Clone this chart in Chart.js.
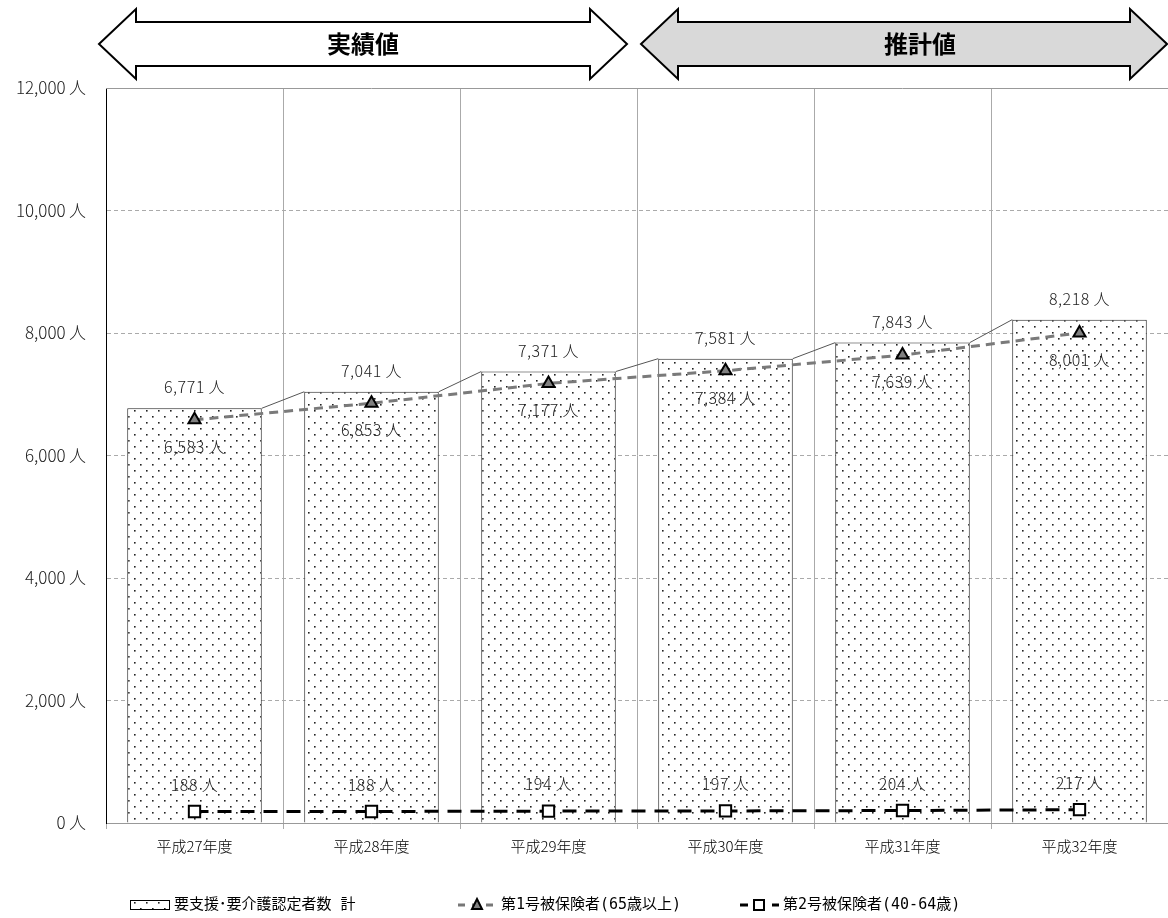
<!DOCTYPE html>
<html><head><meta charset="utf-8">
<script src="https://cdn.jsdelivr.net/npm/chart.js@4/dist/chart.umd.min.js"></script>
<style>html,body{margin:0;padding:0;background:#fff}#wrap{width:1168px;height:918px}</style>
</head><body><div id="wrap"><canvas id="c" width="1168" height="918"></canvas></div>
<script>
const categories = ['平成27年度','平成28年度','平成29年度','平成30年度','平成31年度','平成32年度'];
const totalValues = [6771, 7041, 7371, 7581, 7843, 8218];
const elderlyValues = [6583, 6853, 7177, 7384, 7639, 8001];
const youngerValues = [188, 188, 194, 197, 204, 217];
const seriesNames = ['要支援･要介護認定者数 計', '第1号被保険者(65歳以上)', '第2号被保険者(40-64歳)'];
const yTicks = [0, 2000, 4000, 6000, 8000, 10000, 12000];
const phaseLabels = ['実績値', '推計値'];

const FONT = '"Noto Sans CJK JP", "Noto Sans", sans-serif';
const LFONT = '"DejaVu Sans Mono", "Noto Sans CJK JP", sans-serif';
const fmt = v => v.toLocaleString('en-US') + '\u2009人';

function makePattern(){
  const p = document.createElement('canvas'); p.width = 12; p.height = 12;
  const g = p.getContext('2d');
  g.fillStyle = '#fff'; g.fillRect(0,0,12,12);
  g.fillStyle = '#222';
  g.fillRect(2,2,1.6,1.6); g.fillRect(8,8,1.6,1.6);
  return document.getElementById('c').getContext('2d').createPattern(p,'repeat');
}
const dots = makePattern();

function arrow(ctx, x1, x2, yc, fill){
  const hh = 35, sh = 22, hl = 37;
  ctx.beginPath();
  ctx.moveTo(x1, yc);
  ctx.lineTo(x1+hl, yc-hh); ctx.lineTo(x1+hl, yc-sh);
  ctx.lineTo(x2-hl, yc-sh); ctx.lineTo(x2-hl, yc-hh);
  ctx.lineTo(x2, yc); ctx.lineTo(x2-hl, yc+hh);
  ctx.lineTo(x2-hl, yc+sh); ctx.lineTo(x1+hl, yc+sh);
  ctx.lineTo(x1+hl, yc+hh); ctx.closePath();
  ctx.fillStyle = fill; ctx.fill();
  ctx.lineWidth = 2; ctx.strokeStyle = '#000'; ctx.lineJoin = 'miter'; ctx.stroke();
}

const decor = {
  id: 'decor',
  beforeDatasetsDraw(chart){
    const ctx = chart.ctx, ca = chart.chartArea;
    const bars = chart.getDatasetMeta(0).data;
    ctx.save(); ctx.strokeStyle = '#555'; ctx.lineWidth = 1;
    for (let i=0;i<bars.length-1;i++){
      const a = bars[i], b = bars[i+1];
      ctx.beginPath();
      ctx.moveTo(a.x + a.width/2, a.y); ctx.lineTo(b.x - b.width/2, b.y); ctx.stroke();
    }
    ctx.strokeStyle = '#999'; ctx.beginPath(); ctx.moveTo(ca.left, ca.top+0.5); ctx.lineTo(ca.right, ca.top+0.5); ctx.stroke();
    ctx.restore();
  },
  afterDraw(chart){
    const ctx = chart.ctx;
    ctx.save();
    arrow(ctx, 99, 627, 44, '#fff');
    arrow(ctx, 641, 1167, 44, '#d9d9d9');
    ctx.fillStyle = '#000'; ctx.font = 'bold 24px ' + FONT;
    ctx.textAlign = 'center'; ctx.textBaseline = 'middle';
    ctx.fillText(phaseLabels[0], 363, 44);
    ctx.fillText(phaseLabels[1], 920, 44);

    ctx.font = '300 16px ' + FONT; ctx.fillStyle = '#222';
    ctx.letterSpacing = '0.5px';
    const bars = chart.getDatasetMeta(0).data;
    const p1 = chart.getDatasetMeta(1).data;
    const p2 = chart.getDatasetMeta(2).data;
    bars.forEach((b,i)=>{ ctx.fillText(fmt(totalValues[i]), b.x, b.y - 21); });
    p1.forEach((p,i)=>{ ctx.fillText(fmt(elderlyValues[i]), p.x, p.y + 27); });
    p2.forEach((p,i)=>{ ctx.fillText(fmt(youngerValues[i]), p.x, p.y - 27); });
    ctx.letterSpacing = '0px';

    const ly = 905;
    ctx.font = '15px ' + LFONT; ctx.textAlign = 'left';
    ctx.fillStyle = dots; ctx.fillRect(130, ly-5, 40, 10);
    ctx.strokeStyle = '#000'; ctx.lineWidth = 1; ctx.strokeRect(130.5, ly-4.5, 39, 9);
    ctx.fillStyle = '#000'; ctx.fillText(seriesNames[0], 174, ly);
    ctx.strokeStyle = '#777'; ctx.lineWidth = 3; ctx.setLineDash([7,7]);
    ctx.beginPath(); ctx.moveTo(458, ly); ctx.lineTo(497, ly); ctx.stroke(); ctx.setLineDash([]);
    ctx.beginPath(); ctx.moveTo(477, ly-6); ctx.lineTo(482, ly+4); ctx.lineTo(472, ly+4); ctx.closePath();
    ctx.fillStyle = '#808080'; ctx.fill(); ctx.strokeStyle='#000'; ctx.lineWidth = 2; ctx.stroke();
    ctx.fillStyle = '#000'; ctx.fillText(seriesNames[1], 501, ly);
    ctx.strokeStyle = '#000'; ctx.lineWidth = 3; ctx.setLineDash([8,8]);
    ctx.beginPath(); ctx.moveTo(740, ly); ctx.lineTo(779, ly); ctx.stroke(); ctx.setLineDash([]);
    ctx.fillStyle = '#fff'; ctx.fillRect(754, ly-5, 10, 10);
    ctx.lineWidth = 2; ctx.strokeRect(754, ly-5, 10, 10);
    ctx.fillStyle = '#000'; ctx.fillText(seriesNames[2], 783, ly);
    ctx.restore();
  }
};

new Chart(document.getElementById('c'), {
  type: 'bar',
  data: {
    labels: categories,
    datasets: [
      { type:'bar', label: seriesNames[0], data: totalValues, backgroundColor: dots,
        borderColor: '#222', borderWidth: 1, barPercentage: 0.76, categoryPercentage: 1, order: 3 },
      { type:'line', label: seriesNames[1], data: elderlyValues, borderColor: '#7a7a7a', borderWidth: 3,
        borderDash: [9,6], pointStyle: 'triangle', pointRadius: 7, pointBackgroundColor: '#808080',
        pointBorderColor: '#000', pointBorderWidth: 2, fill: false, tension: 0, order: 1 },
      { type:'line', label: seriesNames[2], data: youngerValues, borderColor: '#000', borderWidth: 3,
        borderDash: [14,9], pointStyle: 'rect', pointRadius: 8, pointBackgroundColor: '#fff',
        pointBorderColor: '#000', pointBorderWidth: 2, fill: false, tension: 0, order: 0 }
    ]
  },
  options: {
    responsive: false, animation: false,
    layout: { autoPadding: false, padding: { top: 88, left: 0, right: 0, bottom: 0 } },
    plugins: { legend: { display: false }, tooltip: { enabled: false } },
    scales: {
      x: {
        grid: { display: true, offset: true, color: '#aaa', lineWidth: 1, tickLength: 6, drawTicks: true },
        border: { display: true, color: '#999' },
        ticks: { color: '#000', font: { family: FONT, size: 15, weight: 300 }, padding: 8 },
        afterFit(s){ s.height = 95; s.paddingLeft = 0; s.paddingRight = 0; }
      },
      y: {
        min: 0, max: 12000,
        afterBuildTicks(s){ s.ticks = yTicks.map(v=>({value:v})); },
        grid: { color: '#aaa', lineWidth: 1, drawTicks: false },
        border: { display: true, color: '#000', dash: [4,3] },
        ticks: { color: '#222', font: { family: FONT, size: 17, weight: 300 }, padding: 20, callback: v => fmt(v) },
        afterFit(s){ s.width = 106; s.paddingTop = 0; s.paddingBottom = 0; }
      }
    }
  },
  plugins: [decor]
});
</script>
</body></html>
